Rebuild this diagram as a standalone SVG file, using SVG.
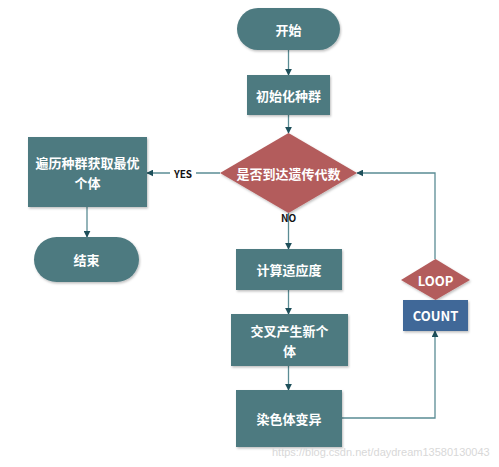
<svg xmlns="http://www.w3.org/2000/svg" width="499" height="467" viewBox="0 0 499 467">
<style>
.node{fill:#4e7a80;filter:url(#sh);}
.red{fill:#b35c5c;filter:url(#sh);}
.blue{fill:#3f6798;filter:url(#sh);}
.t{font-family:"Noto Sans CJK SC","Microsoft YaHei",sans-serif;font-size:13px;font-weight:bold;fill:#ffffff;text-anchor:middle;dominant-baseline:central;}
.lbl{font-family:"Noto Sans CJK SC","Liberation Sans",sans-serif;font-size:10px;font-weight:bold;fill:#111111;text-anchor:middle;dominant-baseline:central;}
.c{fill:none;stroke:#5a8c94;stroke-width:1.3;marker-end:url(#ah);}
.wm{font-family:"Liberation Sans",sans-serif;font-size:11px;fill:#d8d8d8;}
</style>
<defs>
<filter id="sh" x="-10%" y="-10%" width="125%" height="130%">
<feDropShadow dx="1" dy="1.5" stdDeviation="1.2" flood-color="#000000" flood-opacity="0.25"/>
</filter>
<marker id="ah" viewBox="0 0 10 10" refX="9" refY="5" markerWidth="7" markerHeight="7" orient="auto" markerUnits="userSpaceOnUse">
<path d="M0,0 L10,5 L0,10 z" fill="#1e4f5a"/>
</marker>
</defs>
<rect width="499" height="467" fill="#ffffff"/>
<g id="connectors">
<line class="c" x1="288.5" y1="50" x2="288.5" y2="75"/>
<line class="c" x1="288.5" y1="115" x2="288.5" y2="133"/>
<line class="c" x1="220" y1="173" x2="147" y2="173"/>
<line class="c" x1="87" y1="207" x2="87" y2="237"/>
<line class="c" x1="288.5" y1="213" x2="288.5" y2="249"/>
<line class="c" x1="288.5" y1="290" x2="288.5" y2="314"/>
<line class="c" x1="288.5" y1="366" x2="288.5" y2="390"/>
<polyline class="c" points="342,418 435,418 435,331"/>
<polyline class="c" points="435,259 435,173 357,173"/>
</g>
<g id="start">
<rect class="node" x="237" y="8" width="103" height="42" rx="21"/>
<text class="t" x="288.5" y="29">开始</text>
</g>
<g id="init">
<rect class="node" x="247" y="75" width="83" height="40"/>
<text class="t" x="288.5" y="95">初始化种群</text>
</g>
<g id="decision">
<polygon class="red" points="288.5,133 357,173 288.5,213 220,173"/>
<text class="t" x="288.5" y="173">是否到达遗传代数</text>
</g>
<g id="yes-label">
<rect x="170" y="166" width="26" height="14" fill="#ffffff"/>
<text class="lbl" x="183" y="173">YES</text>
</g>
<g id="no-label">
<text class="lbl" x="288.5" y="217">NO</text>
</g>
<g id="best">
<rect class="node" x="28" y="137" width="119" height="70"/>
<text class="t" x="87.5" y="162">遍历种群获取最优</text>
<text class="t" x="87.5" y="182">个体</text>
</g>
<g id="end">
<rect class="node" x="34" y="237" width="105" height="45" rx="22.5"/>
<text class="t" x="86.5" y="259.5">结束</text>
</g>
<g id="fitness">
<rect class="node" x="236" y="249" width="106" height="41"/>
<text class="t" x="289" y="269.5">计算适应度</text>
</g>
<g id="crossover">
<rect class="node" x="231" y="314" width="117" height="52"/>
<text class="t" x="289.5" y="330">交叉产生新个</text>
<text class="t" x="289.5" y="350">体</text>
</g>
<g id="mutation">
<rect class="node" x="236" y="390" width="106" height="57"/>
<text class="t" x="289" y="418">染色体变异</text>
</g>
<g id="loop">
<polygon class="red" points="435.5,259 470,280 435.5,300 401,280"/>
<text class="t" x="435.5" y="280">LOOP</text>
</g>
<g id="count">
<rect class="blue" x="403" y="300" width="65" height="31"/>
<text class="t" x="435.5" y="315.5">COUNT</text>
</g>
<text class="wm" x="272" y="456">https://blog.csdn.net/daydream13580130043</text>
</svg>
